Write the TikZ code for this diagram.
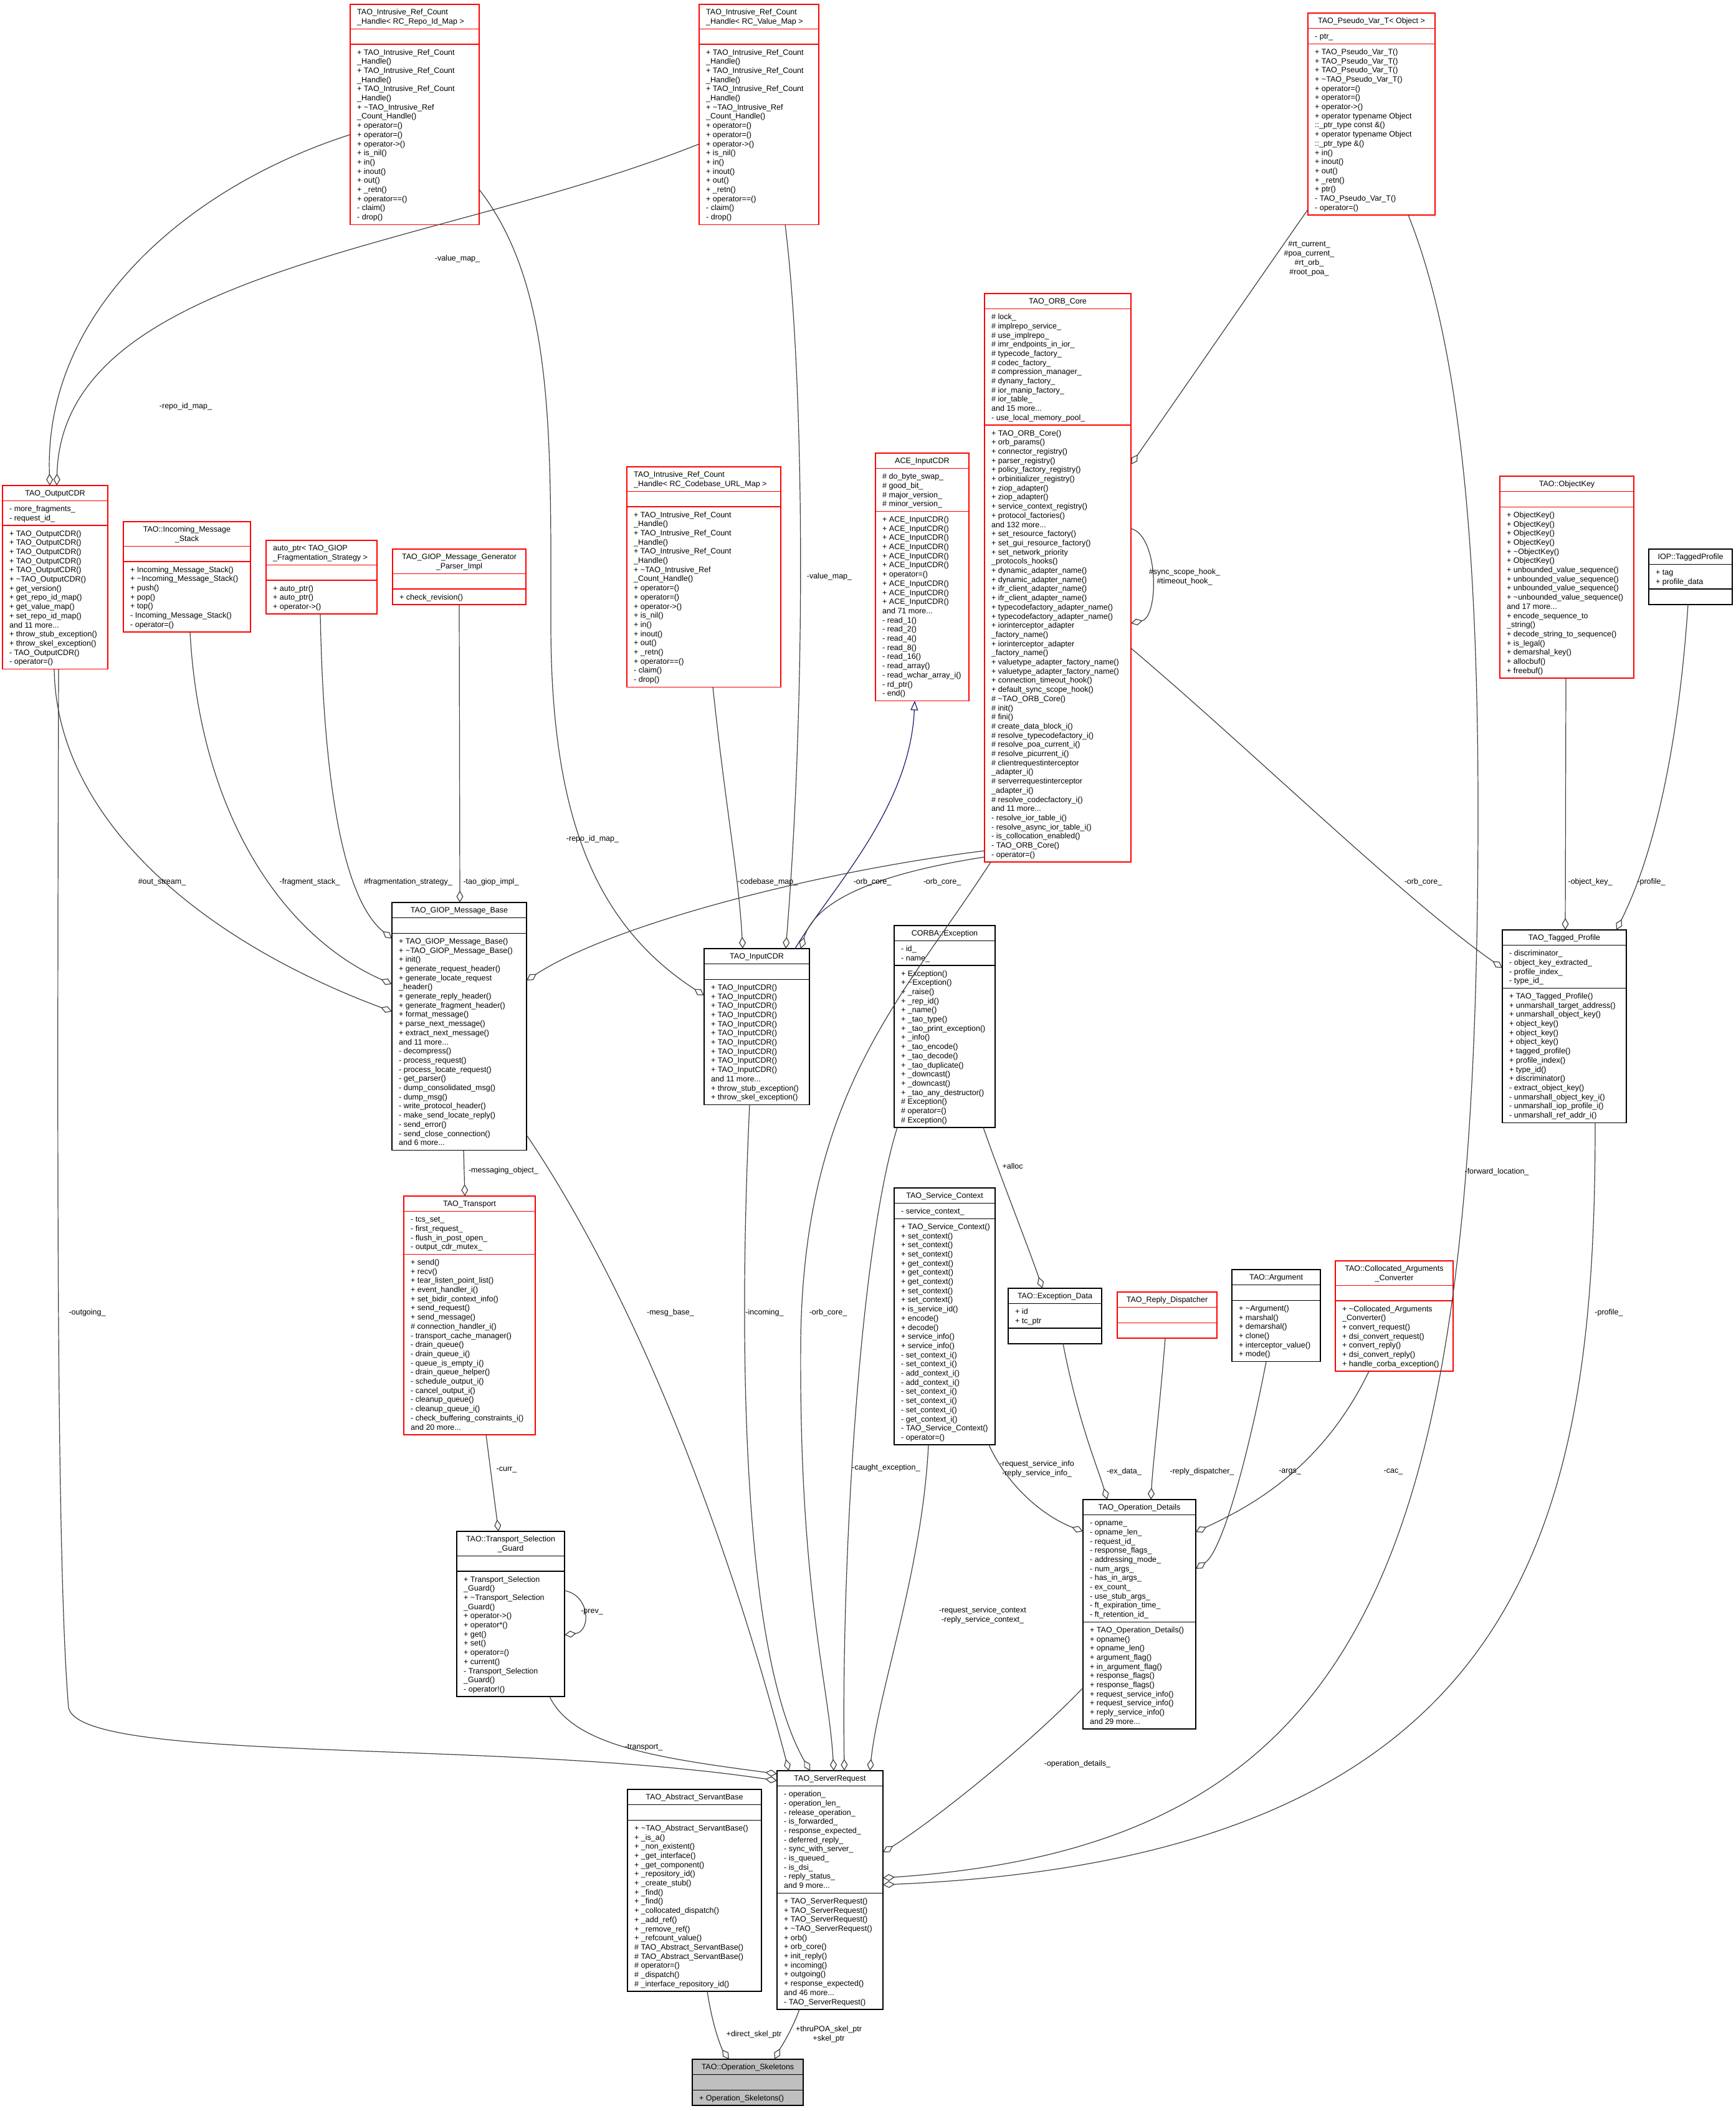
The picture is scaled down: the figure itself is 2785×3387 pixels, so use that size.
\documentclass[tikz,border=0pt]{standalone}
\usepackage{fontspec}
\setmainfont{Liberation Sans}
\usetikzlibrary{calc,arrows.meta}
\definecolor{ured}{RGB}{255,0,0}
\definecolor{egray}{RGB}{64,64,64}
\definecolor{iblue}{RGB}{25,25,112}
\definecolor{skelgray}{RGB}{191,191,191}
\newcommand\bxf{\fontsize{12.5}{14.7}\selectfont}
\newcommand\ubox[9]{%
  \pgfmathsetmacro\uht{#5*14.7+10}%
  \pgfmathsetmacro\uha{max(#6,1)*14.7+10}%
  \pgfmathsetmacro\uhm{max(#7,1)*14.7+10}%
  \pgfmathsetmacro\uw{#4-#2}%
  \pgfmathsetmacro\uh{\uht+\uha+\uhm}%
  \pgfmathsetmacro\uya{#3+\uht}%
  \pgfmathsetmacro\uym{#3+\uht+\uha}%
  \node[draw=#8, fill=#9, boxline, inner sep=0pt, outer sep=0pt, minimum width=\uw pt, minimum height=\uh pt, anchor=north west] (#1) at (#2,#3) {};
  \draw[#8, boxline] (#2,\uya) -- (#4,\uya) (#2,\uym) -- (#4,\uym);
  \coordinate (#1-t) at ({(#2+#4)/2},#3+6.45);
  \coordinate (#1-tl) at (#2+11,#3+6.45);
  \coordinate (#1-a) at (#2+11,\uya+6.45);
  \coordinate (#1-m) at (#2+11,\uym+6.45);
}
\catcode`\_=12
\newcommand\ircm{+ TAO_Intrusive_Ref_Count\\_Handle()\\+ TAO_Intrusive_Ref_Count\\_Handle()\\+ TAO_Intrusive_Ref_Count\\_Handle()\\+ \textasciitilde TAO_Intrusive_Ref\\_Count_Handle()\\+ operator=()\\+ operator=()\\+ operator->()\\+ is_nil()\\+ in()\\+ inout()\\+ out()\\+ _retn()\\+ operator==()\\- claim()\\- drop()}
\begin{document}
\begin{tikzpicture}[x=1pt,y=-1pt,
  boxline/.style={line width=1.5pt},
  txt/.style={inner sep=0pt, align=left, font=\bxf, anchor=north west},
  ttl/.style={inner sep=0pt, align=center, font=\bxf, anchor=north},
  lbl/.style={inner sep=0pt, align=center, font=\bxf},
  agg/.style={draw=egray, line width=1.2pt, -{Diamond[open, length=19pt, width=11pt]}},
  inh/.style={draw=iblue, line width=1.2pt, -{Triangle[open, length=15pt, width=12pt]}}]
\fill[white] (0,0) rectangle (2785,3387);
\useasboundingbox (0,0) rectangle (2785,3387);

% ---------- boxes ----------
\ubox{repo}{562}{7}{769}{2}{0}{19}{ured}{white}
\node[txt] (repoT) at (repo-tl) {\strut TAO_Intrusive_Ref_Count\\_Handle< RC_Repo_Id_Map >};
\node[txt] (repoM) at (repo-m) {\strut\ircm};

\ubox{valmap}{1122}{7}{1314}{2}{0}{19}{ured}{white}
\node[txt] (valmapT) at (valmap-tl) {\strut TAO_Intrusive_Ref_Count\\_Handle< RC_Value_Map >};
\node[txt] (valmapM) at (valmap-m) {\strut\ircm};

\ubox{codebase}{1006}{749}{1253}{2}{0}{19}{ured}{white}
\node[txt] (codebaseT) at (codebase-tl) {\strut TAO_Intrusive_Ref_Count\\_Handle< RC_Codebase_URL_Map >};
\node[txt] (codebaseM) at (codebase-m) {\strut\ircm};

\ubox{pseudo}{2099}{21}{2303}{1}{1}{18}{ured}{white}
\node[ttl] (pseudoT) at (pseudo-t) {\strut TAO_Pseudo_Var_T< Object >};
\node[txt] (pseudoA) at (pseudo-a) {\strut - ptr_};
\node[txt] (pseudoM) at (pseudo-m) {\strut + TAO_Pseudo_Var_T()\\+ TAO_Pseudo_Var_T()\\+ TAO_Pseudo_Var_T()\\+ \textasciitilde TAO_Pseudo_Var_T()\\+ operator=()\\+ operator=()\\+ operator->()\\+ operator typename Object\\::_ptr_type const \&()\\+ operator typename Object\\::_ptr_type \&()\\+ in()\\+ inout()\\+ out()\\+ _retn()\\+ ptr()\\- TAO_Pseudo_Var_T()\\- operator=()};

\ubox{orb}{1580}{471}{1815}{1}{12}{47}{ured}{white}
\node[ttl] (orbT) at (orb-t) {\strut TAO_ORB_Core};
\node[txt] (orbA) at (orb-a) {\strut \# lock_\\\# implrepo_service_\\\# use_implrepo_\\\# imr_endpoints_in_ior_\\\# typecode_factory_\\\# codec_factory_\\\# compression_manager_\\\# dynany_factory_\\\# ior_manip_factory_\\\# ior_table_\\and 15 more...\\- use_local_memory_pool_};
\node[txt] (orbM) at (orb-m) {\strut + TAO_ORB_Core()\\+ orb_params()\\+ connector_registry()\\+ parser_registry()\\+ policy_factory_registry()\\+ orbinitializer_registry()\\+ ziop_adapter()\\+ ziop_adapter()\\+ service_context_registry()\\+ protocol_factories()\\and 132 more...\\+ set_resource_factory()\\+ set_gui_resource_factory()\\+ set_network_priority\\_protocols_hooks()\\+ dynamic_adapter_name()\\+ dynamic_adapter_name()\\+ ifr_client_adapter_name()\\+ ifr_client_adapter_name()\\+ typecodefactory_adapter_name()\\+ typecodefactory_adapter_name()\\+ iorinterceptor_adapter\\_factory_name()\\+ iorinterceptor_adapter\\_factory_name()\\+ valuetype_adapter_factory_name()\\+ valuetype_adapter_factory_name()\\+ connection_timeout_hook()\\+ default_sync_scope_hook()\\\# \textasciitilde TAO_ORB_Core()\\\# init()\\\# fini()\\\# create_data_block_i()\\\# resolve_typecodefactory_i()\\\# resolve_poa_current_i()\\\# resolve_picurrent_i()\\\# clientrequestinterceptor\\_adapter_i()\\\# serverrequestinterceptor\\_adapter_i()\\\# resolve_codecfactory_i()\\and 11 more...\\- resolve_ior_table_i()\\- resolve_async_ior_table_i()\\- is_collocation_enabled()\\- TAO_ORB_Core()\\- operator=()};

\ubox{ocdr}{4}{779}{173}{1}{2}{15}{ured}{white}
\node[ttl] (ocdrT) at (ocdr-t) {\strut TAO_OutputCDR};
\node[txt] (ocdrA) at (ocdr-a) {\strut - more_fragments_\\- request_id_};
\node[txt] (ocdrM) at (ocdr-m) {\strut + TAO_OutputCDR()\\+ TAO_OutputCDR()\\+ TAO_OutputCDR()\\+ TAO_OutputCDR()\\+ TAO_OutputCDR()\\+ \textasciitilde TAO_OutputCDR()\\+ get_version()\\+ get_repo_id_map()\\+ get_value_map()\\+ set_repo_id_map()\\and 11 more...\\+ throw_stub_exception()\\+ throw_skel_exception()\\- TAO_OutputCDR()\\- operator=()};

\ubox{ims}{198}{837}{402}{2}{0}{7}{ured}{white}
\node[ttl] (imsT) at (ims-t) {\strut TAO::Incoming_Message\\_Stack};
\node[txt] (imsM) at (ims-m) {\strut + Incoming_Message_Stack()\\+ \textasciitilde Incoming_Message_Stack()\\+ push()\\+ pop()\\+ top()\\- Incoming_Message_Stack()\\- operator=()};

\ubox{aptr}{427}{867}{605}{2}{0}{3}{ured}{white}
\node[txt] (aptrT) at (aptr-tl) {\strut auto_ptr< TAO_GIOP\\_Fragmentation_Strategy >};
\node[txt] (aptrM) at (aptr-m) {\strut + auto_ptr()\\+ auto_ptr()\\+ operator->()};

\ubox{gpi}{630}{881}{844}{2}{0}{1}{ured}{white}
\node[ttl] (gpiT) at (gpi-t) {\strut TAO_GIOP_Message_Generator\\_Parser_Impl};
\node[txt] (gpiM) at (gpi-m) {\strut + check_revision()};

\ubox{ace}{1405}{727}{1555}{1}{4}{20}{ured}{white}
\node[ttl] (aceT) at (ace-t) {\strut ACE_InputCDR};
\node[txt] (aceA) at (ace-a) {\strut \# do_byte_swap_\\\# good_bit_\\\# major_version_\\\# minor_version_};
\node[txt] (aceM) at (ace-m) {\strut + ACE_InputCDR()\\+ ACE_InputCDR()\\+ ACE_InputCDR()\\+ ACE_InputCDR()\\+ ACE_InputCDR()\\+ ACE_InputCDR()\\+ operator=()\\+ ACE_InputCDR()\\+ ACE_InputCDR()\\+ ACE_InputCDR()\\and 71 more...\\- read_1()\\- read_2()\\- read_4()\\- read_8()\\- read_16()\\- read_array()\\- read_wchar_array_i()\\- rd_ptr()\\- end()};

\ubox{giop}{629}{1448}{845}{1}{0}{23}{black}{white}
\node[ttl] (giopT) at (giop-t) {\strut TAO_GIOP_Message_Base};
\node[txt] (giopM) at (giop-m) {\strut + TAO_GIOP_Message_Base()\\+ \textasciitilde TAO_GIOP_Message_Base()\\+ init()\\+ generate_request_header()\\+ generate_locate_request\\_header()\\+ generate_reply_header()\\+ generate_fragment_header()\\+ format_message()\\+ parse_next_message()\\+ extract_next_message()\\and 11 more...\\- decompress()\\- process_request()\\- process_locate_request()\\- get_parser()\\- dump_consolidated_msg()\\- dump_msg()\\- write_protocol_header()\\- make_send_locate_reply()\\- send_error()\\- send_close_connection()\\and 6 more...};

\ubox{icdr}{1130}{1522}{1299}{1}{0}{13}{black}{white}
\node[ttl] (icdrT) at (icdr-t) {\strut TAO_InputCDR};
\node[txt] (icdrM) at (icdr-m) {\strut + TAO_InputCDR()\\+ TAO_InputCDR()\\+ TAO_InputCDR()\\+ TAO_InputCDR()\\+ TAO_InputCDR()\\+ TAO_InputCDR()\\+ TAO_InputCDR()\\+ TAO_InputCDR()\\+ TAO_InputCDR()\\+ TAO_InputCDR()\\and 11 more...\\+ throw_stub_exception()\\+ throw_skel_exception()};

\ubox{transport}{648}{1919}{859}{1}{4}{19}{ured}{white}
\node[ttl] (transportT) at (transport-t) {\strut TAO_Transport};
\node[txt] (transportA) at (transport-a) {\strut - tcs_set_\\- first_request_\\- flush_in_post_open_\\- output_cdr_mutex_};
\node[txt] (transportM) at (transport-m) {\strut + send()\\+ recv()\\+ tear_listen_point_list()\\+ event_handler_i()\\+ set_bidir_context_info()\\+ send_request()\\+ send_message()\\\# connection_handler_i()\\- transport_cache_manager()\\- drain_queue()\\- drain_queue_i()\\- queue_is_empty_i()\\- drain_queue_helper()\\- schedule_output_i()\\- cancel_output_i()\\- cleanup_queue()\\- cleanup_queue_i()\\- check_buffering_constraints_i()\\and 20 more...};

\ubox{tsg}{733}{2457}{906}{2}{0}{13}{black}{white}
\node[ttl] (tsgT) at (tsg-t) {\strut TAO::Transport_Selection\\_Guard};
\node[txt] (tsgM) at (tsg-m) {\strut + Transport_Selection\\_Guard()\\+ \textasciitilde Transport_Selection\\_Guard()\\+ operator->()\\+ operator*()\\+ get()\\+ set()\\+ operator=()\\+ current()\\- Transport_Selection\\_Guard()\\- operator!()};

\ubox{cexc}{1435}{1485}{1597}{1}{2}{17}{black}{white}
\node[ttl] (cexcT) at (cexc-t) {\strut CORBA::Exception};
\node[txt] (cexcA) at (cexc-a) {\strut - id_\\- name_};
\node[txt] (cexcM) at (cexc-m) {\strut + Exception()\\+ \textasciitilde Exception()\\+ _raise()\\+ _rep_id()\\+ _name()\\+ _tao_type()\\+ _tao_print_exception()\\+ _info()\\+ _tao_encode()\\+ _tao_decode()\\+ _tao_duplicate()\\+ _downcast()\\+ _downcast()\\+ _tao_any_destructor()\\\# Exception()\\\# operator=()\\\# Exception()};

\ubox{svc}{1435}{1906}{1597}{1}{1}{24}{black}{white}
\node[ttl] (svcT) at (svc-t) {\strut TAO_Service_Context};
\node[txt] (svcA) at (svc-a) {\strut - service_context_};
\node[txt] (svcM) at (svc-m) {\strut + TAO_Service_Context()\\+ set_context()\\+ set_context()\\+ set_context()\\+ get_context()\\+ get_context()\\+ get_context()\\+ set_context()\\+ set_context()\\+ is_service_id()\\+ encode()\\+ decode()\\+ service_info()\\+ service_info()\\- set_context_i()\\- set_context_i()\\- add_context_i()\\- add_context_i()\\- set_context_i()\\- set_context_i()\\- set_context_i()\\- get_context_i()\\- TAO_Service_Context()\\- operator=()};

\ubox{exd}{1618}{2067}{1768}{1}{2}{0}{black}{white}
\node[ttl] (exdT) at (exd-t) {\strut TAO::Exception_Data};
\node[txt] (exdA) at (exd-a) {\strut + id\\+ tc_ptr};

\ubox{rdisp}{1793}{2073}{1953}{1}{0}{0}{ured}{white}
\node[ttl] (rdispT) at (rdisp-t) {\strut TAO_Reply_Dispatcher};

\ubox{arg}{1977}{2037}{2119}{1}{0}{6}{black}{white}
\node[ttl] (argT) at (arg-t) {\strut TAO::Argument};
\node[txt] (argM) at (arg-m) {\strut + \textasciitilde Argument()\\+ marshal()\\+ demarshal()\\+ clone()\\+ interceptor_value()\\+ mode()};

\ubox{cac}{2143}{2023}{2332}{2}{0}{7}{ured}{white}
\node[ttl] (cacT) at (cac-t) {\strut TAO::Collocated_Arguments\\_Converter};
\node[txt] (cacM) at (cac-m) {\strut + \textasciitilde Collocated_Arguments\\_Converter()\\+ convert_request()\\+ dsi_convert_request()\\+ convert_reply()\\+ dsi_convert_reply()\\+ handle_corba_exception()};

\ubox{opd}{1738}{2406}{1919}{1}{11}{11}{black}{white}
\node[ttl] (opdT) at (opd-t) {\strut TAO_Operation_Details};
\node[txt] (opdA) at (opd-a) {\strut - opname_\\- opname_len_\\- request_id_\\- response_flags_\\- addressing_mode_\\- num_args_\\- has_in_args_\\- ex_count_\\- use_stub_args_\\- ft_expiration_time_\\- ft_retention_id_};
\node[txt] (opdM) at (opd-m) {\strut + TAO_Operation_Details()\\+ opname()\\+ opname_len()\\+ argument_flag()\\+ in_argument_flag()\\+ response_flags()\\+ response_flags()\\+ request_service_info()\\+ request_service_info()\\+ reply_service_info()\\and 29 more...};

\ubox{okey}{2407}{764}{2622}{1}{0}{18}{ured}{white}
\node[ttl] (okeyT) at (okey-t) {\strut TAO::ObjectKey};
\node[txt] (okeyM) at (okey-m) {\strut + ObjectKey()\\+ ObjectKey()\\+ ObjectKey()\\+ ObjectKey()\\+ \textasciitilde ObjectKey()\\+ ObjectKey()\\+ unbounded_value_sequence()\\+ unbounded_value_sequence()\\+ unbounded_value_sequence()\\+ \textasciitilde unbounded_value_sequence()\\and 17 more...\\+ encode_sequence_to\\_string()\\+ decode_string_to_sequence()\\+ is_legal()\\+ demarshal_key()\\+ allocbuf()\\+ freebuf()};

\ubox{iop}{2646}{881}{2780}{1}{2}{0}{black}{white}
\node[ttl] (iopT) at (iop-t) {\strut IOP::TaggedProfile};
\node[txt] (iopA) at (iop-a) {\strut + tag\\+ profile_data};

\ubox{tprof}{2411}{1492}{2610}{1}{4}{14}{black}{white}
\node[ttl] (tprofT) at (tprof-t) {\strut TAO_Tagged_Profile};
\node[txt] (tprofA) at (tprof-a) {\strut - discriminator_\\- object_key_extracted_\\- profile_index_\\- type_id_};
\node[txt] (tprofM) at (tprof-m) {\strut + TAO_Tagged_Profile()\\+ unmarshall_target_address()\\+ unmarshall_object_key()\\+ object_key()\\+ object_key()\\+ object_key()\\+ tagged_profile()\\+ profile_index()\\+ type_id()\\+ discriminator()\\- extract_object_key()\\- unmarshall_object_key_i()\\- unmarshall_iop_profile_i()\\- unmarshall_ref_addr_i()};

\ubox{sreq}{1247}{2841}{1417}{1}{11}{12}{black}{white}
\node[ttl] (sreqT) at (sreq-t) {\strut TAO_ServerRequest};
\node[txt] (sreqA) at (sreq-a) {\strut - operation_\\- operation_len_\\- release_operation_\\- is_forwarded_\\- response_expected_\\- deferred_reply_\\- sync_with_server_\\- is_queued_\\- is_dsi_\\- reply_status_\\and 9 more...};
\node[txt] (sreqM) at (sreq-m) {\strut + TAO_ServerRequest()\\+ TAO_ServerRequest()\\+ TAO_ServerRequest()\\+ \textasciitilde TAO_ServerRequest()\\+ orb()\\+ orb_core()\\+ init_reply()\\+ incoming()\\+ outgoing()\\+ response_expected()\\and 46 more...\\- TAO_ServerRequest()};

\ubox{asb}{1007}{2871}{1222}{1}{0}{18}{black}{white}
\node[ttl] (asbT) at (asb-t) {\strut TAO_Abstract_ServantBase};
\node[txt] (asbM) at (asb-m) {\strut + \textasciitilde TAO_Abstract_ServantBase()\\+ _is_a()\\+ _non_existent()\\+ _get_interface()\\+ _get_component()\\+ _repository_id()\\+ _create_stub()\\+ _find()\\+ _find()\\+ _collocated_dispatch()\\+ _add_ref()\\+ _remove_ref()\\+ _refcount_value()\\\# TAO_Abstract_ServantBase()\\\# TAO_Abstract_ServantBase()\\\# operator=()\\\# _dispatch()\\\# _interface_repository_id()};

\ubox{skel}{1111}{3304}{1289}{1}{0}{1}{black}{skelgray}
\node[ttl] (skelT) at (skel-t) {\strut TAO::Operation_Skeletons};
\node[txt] (skelM) at (skel-m) {\strut + Operation_Skeletons()};

% ---------- connectors ----------
\draw[agg] ($(repo.north west)+(0,209)$) .. controls (300,300) and (70,500) .. ($(ocdr.north west)+(76,0)$);
\draw[agg] ($(valmap.north west)+(0,224)$) .. controls (700,400) and (100,430) .. ($(ocdr.north west)+(87,0)$);
\draw[agg] ($(repo.north east)+(0,297)$) .. controls (890,460) and (884,700) .. (884,1000) .. controls (884,1300) and (950,1480) .. ($(icdr.north west)+(0,75)$);
\draw[agg] ($(valmap.south west)+(138,0)$) .. controls (1290,600) and (1295,1100) .. ($(icdr.north west)+(131,0)$);
\draw[agg] ($(codebase.south west)+(138,0)$) .. controls (1165,1300) and (1185,1400) .. ($(icdr.north west)+(62,0)$);
\draw[inh] ($(icdr.north west)+(146,0)$) .. controls (1330,1430) and (1460,1300) .. ($(ace.south west)+(63,0)$);
\draw[agg] ($(orb.south west)+(0,-18)$) .. controls (1300,1400) and (980,1485) .. ($(giop.north east)+(0,125)$);
\draw[agg] ($(orb.south west)+(0,-8)$) .. controls (1420,1400) and (1310,1440) .. ($(icdr.north west)+(155,0)$);
\draw[agg] ($(orb.south west)+(10,0)$) .. controls (1450,1600) and (1290,1750) .. (1285,2150) .. controls (1282,2550) and (1330,2700) .. ($(sreq.north west)+(91,0)$);
\draw[agg] ($(orb.north east)+(0,569)$) .. controls (2010,1205) and (2250,1440) .. ($(tprof.north west)+(0,61)$);
\draw[agg] ($(orb.north east)+(0,377)$) .. controls (1860,860) and (1860,990) .. ($(orb.north east)+(0,529)$);
\draw[agg] ($(pseudo.north west)+(0,315)$) .. controls (2004,472) and (1910,609) .. ($(orb.north east)+(0,274)$);
\draw[agg] ($(pseudo.south west)+(161,0)$) .. controls (2330,520) and (2372,800) .. (2372,1300) .. controls (2372,2500) and (2200,2960) .. ($(sreq.north east)+(0,172)$);
\draw[agg] ($(ocdr.south west)+(83,0)$) .. controls (90,1300) and (300,1500) .. ($(giop.north west)+(0,175)$);
\draw[agg] ($(ims.south west)+(107,0)$) .. controls (320,1300) and (450,1500) .. ($(giop.north west)+(0,131)$);
\draw[agg] ($(aptr.south west)+(87,0)$) .. controls (520,1300) and (560,1450) .. ($(giop.north west)+(0,58)$);
\draw[agg] ($(gpi.south west)+(107,0)$) -- ($(giop.north west)+(109,0)$);
\draw[agg] ($(giop.south west)+(115,0)$) -- ($(transport.north west)+(98,0)$);
\draw[agg] ($(giop.north east)+(0,373)$) .. controls (1000,2050) and (1150,2400) .. ($(sreq.north west)+(19,0)$);
\draw[agg] ($(transport.south west)+(132,0)$) -- ($(tsg.north west)+(67,0)$);
\draw[agg] ($(tsg.north east)+(0,95)$) .. controls (948,2560) and (948,2618) .. ($(tsg.north east)+(0,166)$);
\draw[agg] ($(tsg.south west)+(149,0)$) .. controls (920,2800) and (1050,2820) .. ($(sreq.north west)+(0,5)$);
\draw[agg] ($(ocdr.south west)+(90,0)$) .. controls (92,1800) and (90,2500) .. (110,2740) .. controls (130,2830) and (800,2790) .. ($(sreq.north west)+(0,16)$);
\draw[agg] ($(icdr.south west)+(73,0)$) .. controls (1185,2150) and (1190,2650) .. ($(sreq.north west)+(53,0)$);
\draw[agg] ($(cexc.south west)+(5,0)$) .. controls (1380,2000) and (1350,2500) .. ($(sreq.north west)+(108,0)$);
\draw[agg] ($(svc.south west)+(55,0)$) .. controls (1480,2520) and (1410,2710) .. ($(sreq.north west)+(149,0)$);
\draw[agg] ($(svc.south east)+(-10,0)$) .. controls (1620,2390) and (1680,2435) .. ($(opd.north west)+(0,51)$);
\draw[agg] ($(cexc.south west)+(143,0)$) .. controls (1610,1900) and (1650,2000) .. ($(exd.north west)+(55,0)$);
\draw[agg] ($(exd.south west)+(88,0)$) .. controls (1730,2280) and (1760,2350) .. ($(opd.north west)+(39,0)$);
\draw[agg] ($(rdisp.south west)+(77,0)$) .. controls (1860,2270) and (1850,2350) .. ($(opd.north west)+(109,0)$);
\draw[agg] ($(arg.south west)+(55,0)$) .. controls (2000,2350) and (1960,2490) .. ($(opd.north east)+(0,111)$);
\draw[agg] ($(cac.south west)+(54,0)$) .. controls (2120,2360) and (2000,2420) .. ($(opd.north east)+(0,52)$);
\draw[agg] ($(opd.north west)+(0,302)$) .. controls (1650,2800) and (1500,2920) .. ($(sreq.north east)+(0,131)$);
\draw[agg] ($(okey.south west)+(106,0)$) -- ($(tprof.north west)+(101,0)$);
\draw[agg] ($(iop.south west)+(63,0)$) .. controls (2690,1250) and (2640,1400) .. ($(tprof.north west)+(183,0)$);
\draw[agg] ($(tprof.south west)+(149,0)$) .. controls (2560,2450) and (2450,2980) .. ($(sreq.north east)+(0,183)$);
\draw[agg] ($(asb.south west)+(128,0)$) .. controls (1145,3260) and (1160,3290) .. ($(skel.north west)+(59,0)$);
\draw[agg] ($(sreq.south west)+(36,0)$) .. controls (1270,3260) and (1250,3290) .. ($(skel.north west)+(132,0)$);

% ---------- connector labels ----------
\node[lbl] (l1) at (298,652) {-repo_id_map_};
\node[lbl] (l2) at (734,415) {-value_map_};
\node[lbl] (l3) at (951,1346) {-repo_id_map_};
\node[lbl] (l4) at (1331,925) {-value_map_};
\node[lbl] (l5) at (1232,1415) {-codebase_map_};
\node[lbl] (l6) at (1400,1415) {-orb_core_};
\node[lbl] (l7) at (1512,1415) {-orb_core_};
\node[lbl] (l8) at (2284,1415) {-orb_core_};
\node[lbl] (l9) at (1329,2106) {-orb_core_};
\node[lbl] (l10) at (1901,926) {\#sync_scope_hook_\\\#timeout_hook_};
\node[lbl] (l11) at (2101,415) {\#rt_current_\\\#poa_current_\\\#rt_orb_\\\#root_poa_};
\node[lbl] (l12) at (2402,1880) {-forward_location_};
\node[lbl] (l13) at (260,1415) {\#out_stream_};
\node[lbl] (l14) at (497,1415) {-fragment_stack_};
\node[lbl] (l15) at (655,1415) {\#fragmentation_strategy_};
\node[lbl] (l16) at (788,1415) {-tao_giop_impl_};
\node[lbl] (l17) at (808,1878) {-messaging_object_};
\node[lbl] (l18) at (1076,2106) {-mesg_base_};
\node[lbl] (l19) at (813,2358) {-curr_};
\node[lbl] (l20) at (950,2586) {-prev_};
\node[lbl] (l21) at (1033,2804) {-transport_};
\node[lbl] (l22) at (140,2106) {-outgoing_};
\node[lbl] (l23) at (1227,2106) {-incoming_};
\node[lbl] (l24) at (1422,2355) {-caught_exception_};
\node[lbl] (l25) at (1577,2592) {-request_service_context\\-reply_service_context_};
\node[lbl] (l26) at (1664,2357) {-request_service_info\\-reply_service_info_};
\node[lbl] (l27) at (1625,1871) {+alloc};
\node[lbl] (l28) at (1804,2361) {-ex_data_};
\node[lbl] (l29) at (1929,2361) {-reply_dispatcher_};
\node[lbl] (l30) at (2070,2361) {-args_};
\node[lbl] (l31) at (2236,2361) {-cac_};
\node[lbl] (l32) at (1729,2830) {-operation_details_};
\node[lbl] (l33) at (2552,1415) {-object_key_};
\node[lbl] (l34) at (2650,1415) {-profile_};
\node[lbl] (l35) at (2582,2106) {-profile_};
\node[lbl] (l36) at (1210,3264) {+direct_skel_ptr};
\node[lbl] (l37) at (1330,3264) {+thruPOA_skel_ptr\\+skel_ptr};
\end{tikzpicture}
\end{document}
